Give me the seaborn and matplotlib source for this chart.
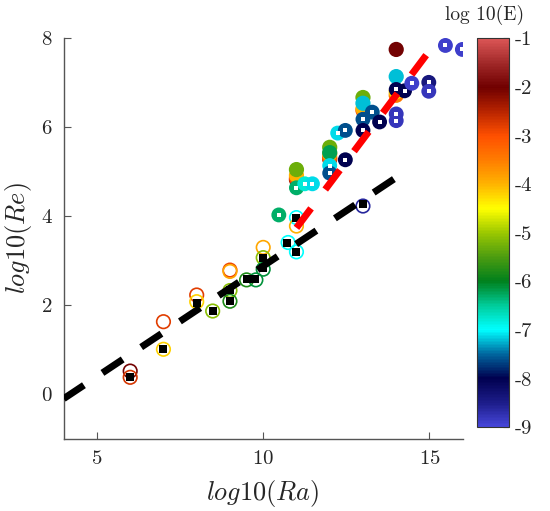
import numpy as np
import pandas as pd
import matplotlib
matplotlib.use('Agg')
import matplotlib.pyplot as plt
import seaborn as sns
from matplotlib.colors import LinearSegmentedColormap, Normalize
from matplotlib.cm import ScalarMappable

# open circles (thin edge), coloured by log10(E)
open_ra = [6, 6, 7, 7, 8, 8, 8.48, 9, 9, 9, 9, 9.5, 9.78, 10, 10, 10, 10.75, 11, 11, 11, 13]
open_re = [0.52, 0.38, 1.63, 1.01, 2.23, 2.08, 1.87, 2.79, 2.76, 2.33, 2.09, 2.57, 2.57,
           3.30, 3.07, 2.81, 3.41, 3.20, 3.97, 3.78, 4.23]
open_e = [-2.0, -2.7, -2.8, -4.2, -2.8, -4.2, -5.1, -2.9, -3.9, -5.1, -5.8, -5.8, -6.1,
          -3.9, -5.1, -6.1, -7.0, -7.0, -7.0, -4.0, -8.6]

# black squares
sq_ra = [6, 7, 8, 8.48, 9, 9, 9.5, 9.75, 10, 10, 10.73, 10.98, 10.98, 13]
sq_re = [0.39, 1.01, 2.06, 1.88, 2.34, 2.09, 2.58, 2.58, 3.07, 2.83, 3.41, 3.20, 3.96, 4.27]

# filled circles (stacked at same Ra)
fill_ra = [11, 11, 11, 11, 12, 12, 12, 12, 12, 13, 13, 13, 13, 14, 14, 14, 14]
fill_re = [4.82, 4.86, 4.92, 5.05, 5.28, 5.32, 5.40, 5.55, 5.43, 6.38, 6.42, 6.67, 6.54,
           6.72, 6.80, 7.14, 7.75]
fill_e = [-2.3, -3.0, -4.0, -5.3, -2.5, -3.2, -4.0, -5.3, -6.2, -3.0, -4.0, -5.3, -7.2,
          -3.5, -4.2, -7.2, -2.0]

# thick rings with white square centre
ring_ra = [10.47, 11, 11.25, 11.48, 12, 12, 12.47, 12.24, 12.47, 13, 13.28, 13, 13.5,
           14, 14.25, 14.47, 14.98, 14.98, 14, 14, 15.48, 15.99]
ring_re = [4.03, 4.64, 4.73, 4.73, 5.14, 4.97, 5.27, 5.87, 5.93, 6.18, 6.34, 5.93, 6.12,
           6.85, 6.82, 6.99, 7.01, 6.81, 6.30, 6.15, 7.84, 7.75]
ring_e = [-6.3, -6.3, -6.8, -7.1, -7.1, -7.6, -8.0, -7.1, -7.6, -7.6, -7.6, -8.0, -8.0,
          -8.0, -8.0, -8.9, -8.4, -8.8, -8.8, -8.8, -8.9, -8.9]

# fit lines
fit1_ra = [4, 14]
fit1_re = [-0.10, 4.87]
fit2_ra = [11, 15]
fit2_re = [3.74, 7.72]

cmap_vals = [-9, -8.5, -8, -7.5, -7, -6.5, -6, -5.5, -5, -4.5, -4, -3.5, -3, -2.5, -2, -1.5, -1]
cmap_cols = ['#4646da', '#1c1c88', '#00004f', '#0068a0', '#00ffff', '#00cc9a', '#00801c',
             '#4c9c10', '#9cc800', '#ffff00', '#ffb400', '#ff7c00', '#ff5000', '#b82400',
             '#700000', '#a02828', '#dc5656']
cmap = LinearSegmentedColormap.from_list(
    'ecmap', [((v + 9) / 8, c) for v, c in zip(cmap_vals, cmap_cols)])
norm = Normalize(-9, -1)

sns.set_style('white')
plt.rcParams['font.family'] = ['cmr10', 'DejaVu Serif']
plt.rcParams['mathtext.fontset'] = 'cm'
plt.rcParams['axes.unicode_minus'] = False
plt.rcParams['axes.formatter.use_mathtext'] = True

fig = plt.figure(figsize=(5.5, 5.11), dpi=100)
ax = fig.add_axes([0.1158, 0.1415, 0.7255, 0.7835])

df_open = pd.DataFrame({'Ra': open_ra, 'Re': open_re, 'E': open_e})
sns.scatterplot(data=df_open, x='Ra', y='Re', hue='E', palette=cmap, hue_norm=norm,
                s=95, linewidth=1.2, legend=False, ax=ax, zorder=2)
coll = ax.collections[-1]
coll.set_edgecolors(coll.get_facecolors())
coll.set_facecolors('none')

sns.scatterplot(x=sq_ra, y=sq_re, color='black', marker='s', s=30, linewidth=0,
                ax=ax, zorder=3)

df_fill = pd.DataFrame({'Ra': fill_ra, 'Re': fill_re, 'E': fill_e})
sns.scatterplot(data=df_fill, x='Ra', y='Re', hue='E', palette=cmap, hue_norm=norm,
                s=120, linewidth=0, legend=False, ax=ax, zorder=4)

df_ring = pd.DataFrame({'Ra': ring_ra, 'Re': ring_re, 'E': ring_e})
sns.scatterplot(data=df_ring, x='Ra', y='Re', hue='E', palette=cmap, hue_norm=norm,
                s=115, linewidth=0, legend=False, ax=ax, zorder=5)
sns.scatterplot(x=ring_ra, y=ring_re, color='white', marker='s', s=12, linewidth=0,
                ax=ax, zorder=6)

sns.lineplot(x=fit1_ra, y=fit1_re, color='black', lw=5, ax=ax, zorder=7)
ax.lines[-1].set_dashes([3.5, 3.2])
sns.lineplot(x=fit2_ra, y=fit2_re, color='#ff0000', lw=5, ax=ax, zorder=7)
ax.lines[-1].set_dashes([3.5, 3.4])

ax.set_xlim(4, 16)
ax.set_ylim(-1, 8)
ax.set_xticks([5, 10, 15])
ax.set_yticks([0, 2, 4, 6, 8])
for s in ['top', 'right']:
    ax.spines[s].set_visible(False)
for s in ['left', 'bottom']:
    ax.spines[s].set_color('#555555')
    ax.spines[s].set_linewidth(1.0)
ax.tick_params(bottom=True, left=True, direction='in', length=5, width=0.8,
               color='#555555', labelsize=15, pad=8)
ax.set_xlabel(r'$log10(Ra)$', fontsize=19, labelpad=7)
ax.set_ylabel(r'$log10(Re)$', fontsize=19, labelpad=5)

cax = fig.add_axes([0.8667, 0.1638, 0.0593, 0.7612])
sm = ScalarMappable(norm=norm, cmap=cmap)
cb = fig.colorbar(sm, cax=cax, ticks=np.arange(-9, 0))
cb.ax.set_yticklabels([str(t) for t in range(-9, 0)])
cb.ax.tick_params(right=True, direction='in', length=4, width=0.8, labelsize=15,
                  color='#333333', pad=4)
cb.outline.set_linewidth(0.8)
cb.outline.set_edgecolor('#333333')
fig.text(485 / 550, 1 - 15 / 511, 'log 10(E)', fontsize=14, ha='center', va='center')

fig.savefig('out.png', dpi=100)
